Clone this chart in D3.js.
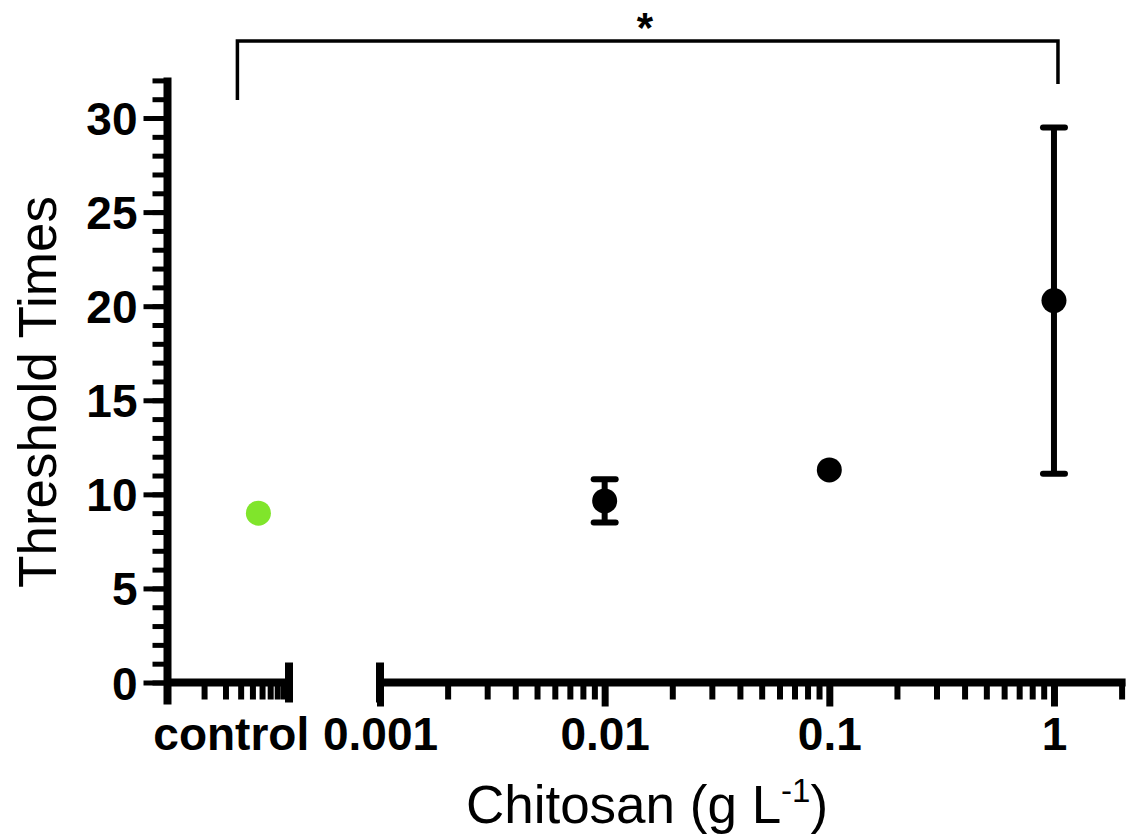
<!DOCTYPE html>
<html>
<head>
<meta charset="utf-8">
<script src="https://cdn.jsdelivr.net/npm/d3@7"></script>
<style>
  body { margin: 0; background: #fff; }
  svg { display: block; }
  .tick-label { font-family: "Liberation Sans", Arial, sans-serif; font-weight: bold; font-size: 46px; fill: #000; }
  .title { font-family: "Liberation Sans", Arial, sans-serif; font-size: 53px; fill: #000; }
</style>
</head>
<body>
<div id="chart"></div>
<script>
// Chart data
const groups = ['control', '0.01', '0.1', '1'];
const concentrations = [null, 0.01, 0.1, 1]; // g/L, control has none
const means = [9.0, 9.65, 11.3, 20.3];
const errors = [0, 1.15, 0, 9.2]; // 0.1 g/L bar is hidden behind its marker
const colors = ['#80e52b', '#000', '#000', '#000'];

const yTickValues = [0, 5, 10, 15, 20, 25, 30];
const xTickValues = [0.001, 0.01, 0.1, 1];
const xTickLabels = ['0.001', '0.01', '0.1', '1'];
const controlLabel = 'control';
const significance = '*';

const w = 1135;
const h = 837;

const svg = d3.select('#chart')
  .append('svg')
  .attr('width', w)
  .attr('height', h);

// Scales: y linear, x is a log axis broken into a control segment and the main segment
const yscale = d3.scaleLinear().domain([0, 32]).range([682.5, 80.4]);
const xctrl = d3.scaleLog().domain([1, 10]).range([167.5, 289]);
const xscale = d3.scaleLog().domain([0.001, 2]).range([380, 1121.6]);
const controlPos = 5.6; // where the control point sits inside its segment

const axisY = yscale(0);

// ---- y axis ----
const yMinor = d3.axisLeft(yscale)
  .tickValues(d3.range(0, 33))
  .tickSize(15)
  .tickSizeOuter(0)
  .tickFormat('');
svg.append('g')
  .attr('transform', 'translate(167.5, 0)')
  .call(yMinor)
  .call((g) => g.select('.domain').remove())
  .call((g) => g.selectAll('line').attr('stroke', '#000').attr('stroke-width', 5));

const yMajor = d3.axisLeft(yscale)
  .tickValues(yTickValues)
  .tickSize(24)
  .tickSizeOuter(0)
  .tickPadding(6);
const yg = svg.append('g')
  .attr('transform', 'translate(167.5, 0)')
  .call(yMajor);
yg.select('.domain').remove();
yg.selectAll('line').attr('stroke', '#000').attr('stroke-width', 5);
yg.selectAll('text').attr('class', 'tick-label').attr('dy', '0.36em');

// y axis line, reaching a bit below the x axis
svg.append('line')
  .attr('x1', 167.5).attr('x2', 167.5)
  .attr('y1', yscale(32) - 3).attr('y2', axisY + 22)
  .attr('stroke', '#000').attr('stroke-width', 8);

// ---- x axis: control segment ----
svg.append('line')
  .attr('x1', xctrl(1)).attr('x2', xctrl(10) + 4)
  .attr('y1', axisY).attr('y2', axisY)
  .attr('stroke', '#000').attr('stroke-width', 8);

const ctrlAxis = d3.axisBottom(xctrl)
  .tickValues([2, 3, 4, 5, 6, 7, 8, 9])
  .tickSize(17)
  .tickSizeOuter(0)
  .tickFormat('');
svg.append('g')
  .attr('transform', `translate(0, ${axisY})`)
  .call(ctrlAxis)
  .call((g) => g.select('.domain').remove())
  .call((g) => g.selectAll('line').attr('stroke', '#000').attr('stroke-width', 6));

svg.append('text')
  .attr('class', 'tick-label')
  .attr('x', (xctrl(1) + xctrl(10)) / 2 + 3)
  .attr('y', 750)
  .attr('text-anchor', 'middle')
  .text(controlLabel);

// ---- x axis: main log segment ----
svg.append('line')
  .attr('x1', xscale(0.001)).attr('x2', xscale(2) + 4)
  .attr('y1', axisY).attr('y2', axisY)
  .attr('stroke', '#000').attr('stroke-width', 8);

const minorVals = xscale.ticks().filter((v) => !xTickValues.includes(v));
const xMinor = d3.axisBottom(xscale)
  .tickValues(minorVals)
  .tickSize(17)
  .tickSizeOuter(0)
  .tickFormat('');
svg.append('g')
  .attr('transform', `translate(0, ${axisY})`)
  .call(xMinor)
  .call((g) => g.select('.domain').remove())
  .call((g) => g.selectAll('line').attr('stroke', '#000').attr('stroke-width', 6));

const xMajor = d3.axisBottom(xscale)
  .tickValues(xTickValues)
  .tickSize(24)
  .tickSizeOuter(0)
  .tickPadding(0)
  .tickFormat((d, i) => xTickLabels[i]);
const xg = svg.append('g')
  .attr('transform', `translate(0, ${axisY})`)
  .call(xMajor);
xg.select('.domain').remove();
xg.selectAll('line').attr('stroke', '#000').attr('stroke-width', 7);
xg.selectAll('text')
  .attr('class', 'tick-label')
  .attr('y', 750 - axisY)
  .attr('dy', 0);

// break marks at the segment ends
[xctrl(10), xscale(0.001)].forEach((bx) => {
  svg.append('line')
    .attr('x1', bx).attr('x2', bx)
    .attr('y1', axisY - 20).attr('y2', axisY + 20)
    .attr('stroke', '#000').attr('stroke-width', 8);
});

// ---- axis titles ----
svg.append('text')
  .attr('class', 'title')
  .attr('transform', 'translate(56, 392) rotate(-90)')
  .attr('text-anchor', 'middle')
  .text('Threshold Times');

const xt = svg.append('text')
  .attr('class', 'title')
  .attr('x', 647)
  .attr('y', 823)
  .attr('text-anchor', 'middle');
xt.append('tspan').text('Chitosan (g L');
xt.append('tspan').attr('font-size', '33px').attr('dy', -21).text('-1');
xt.append('tspan').attr('dy', 21).text(')');

// ---- points with error bars ----
const px = (i) => (concentrations[i] === null ? xctrl(controlPos) : xscale(concentrations[i]));
const idx = d3.range(groups.length);

const pts = svg.append('g')
  .selectAll('g')
  .data(idx)
  .enter()
  .append('g');

pts.each(function (i) {
  if (!(errors[i] > 0)) return;
  const g = d3.select(this);
  const cx = px(i);
  const top = yscale(means[i] + errors[i]);
  const bot = yscale(means[i] - errors[i]);
  g.append('line')
    .attr('x1', cx).attr('x2', cx).attr('y1', top).attr('y2', bot)
    .attr('stroke', '#000').attr('stroke-width', 6);
  [top, bot].forEach((cy) => {
    g.append('line')
      .attr('x1', cx - 11).attr('x2', cx + 11).attr('y1', cy).attr('y2', cy)
      .attr('stroke', '#000').attr('stroke-width', 6)
      .attr('stroke-linecap', 'round');
  });
});

pts.append('circle')
  .attr('cx', (i) => px(i))
  .attr('cy', (i) => yscale(means[i]))
  .attr('r', 12.5)
  .attr('fill', (i) => colors[i]);

// ---- significance bracket between control and 1 g/L ----
const bl = xctrl(controlPos) - 21;
const br = xscale(1) + 4;
svg.append('path')
  .attr('d', `M${bl},100 V41 H${br} V84`)
  .attr('fill', 'none')
  .attr('stroke', '#000')
  .attr('stroke-width', 3.5);

svg.append('text')
  .attr('x', 645)
  .attr('y', 42)
  .attr('text-anchor', 'middle')
  .style('font-family', '"Liberation Sans", Arial, sans-serif')
  .style('font-weight', 'bold')
  .style('font-size', '42px')
  .text(significance);
</script>
</body>
</html>
